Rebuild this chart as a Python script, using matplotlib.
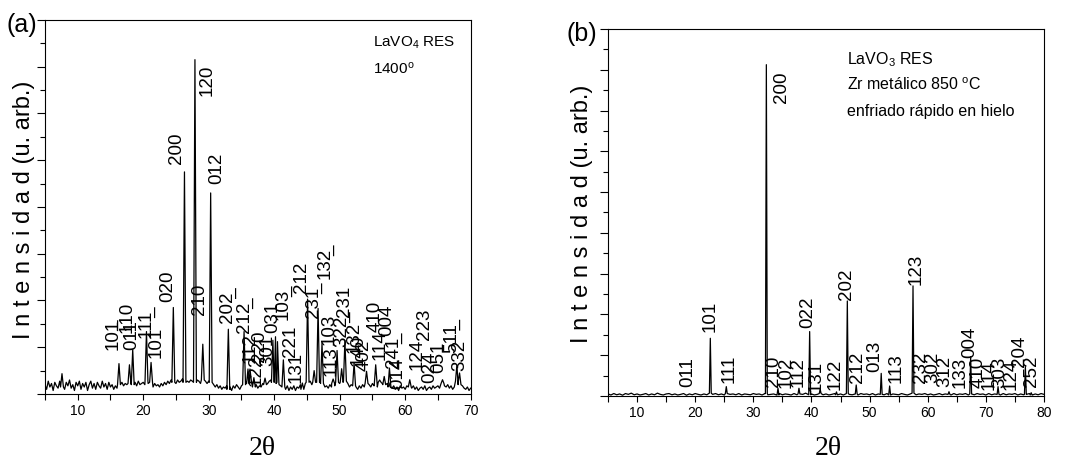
import numpy as np
import matplotlib.pyplot as plt
from matplotlib.ticker import MultipleLocator

plt.rcParams['font.family'] = ['Liberation Sans', 'DejaVu Sans']
plt.rcParams['mathtext.fontset'] = 'custom'
plt.rcParams['mathtext.rm'] = 'Liberation Sans'
plt.rcParams['mathtext.it'] = 'Liberation Sans:italic'

# ---- panel (a): LaVO4 RES 1400 ----
# baseline readings every 0.25 deg from 5 to 70 (u. arb.)
base_a = [
    0.40, 0.20, 0.55, 0.30, 0.45, 0.15, 0.50, 0.35, 0.25, 0.55,
    0.30, 0.45, 0.20, 0.50, 0.35, 0.60, 0.25, 0.40, 0.15, 0.50,
    0.35, 0.55, 0.20, 0.45, 0.30, 0.50, 0.15, 0.40, 0.55, 0.25,
    0.45, 0.20, 0.50, 0.35, 0.25, 0.55, 0.30, 0.45, 0.20, 0.50,
    0.30, 0.40, 0.20, 0.35, 0.25, 0.40, 0.30, 0.50, 0.35, 0.45,
    0.40, 0.55, 0.45, 0.60, 0.40, 0.50, 0.35, 0.55, 0.40, 0.45,
    0.50, 0.40, 0.55, 0.45, 0.35, 0.50, 0.30, 0.45, 0.35, 0.40,
    0.30, 0.45, 0.35, 0.50, 0.40, 0.55, 0.45, 0.60, 0.50, 0.55,
    0.45, 0.60, 0.50, 0.55, 0.65, 0.50, 0.60, 0.55, 0.50, 0.60,
    0.55, 0.65, 0.50, 0.60, 0.55, 0.45, 0.60, 0.50, 0.55, 0.45,
    0.55, 0.50, 0.45, 0.40, 0.30, 0.40, 0.25, 0.35, 0.20, 0.30,
    0.25, 0.35, 0.20, 0.30, 0.15, 0.35, 0.25, 0.40, 0.30, 0.20,
    0.35, 0.45, 0.40, 0.50, 0.45, 0.55, 0.40, 0.35, 0.30, 0.40,
    0.25, 0.35, 0.30, 0.45, 0.40, 0.50, 0.45, 0.55, 0.60, 0.50,
    0.55, 0.50, 0.45, 0.40, 0.35, 0.25, 0.30, 0.20, 0.35, 0.15,
    0.30, 0.20, 0.35, 0.15, 0.30, 0.25, 0.40, 0.20, 0.35, 0.45,
    0.50, 0.45, 0.55, 0.40, 0.50, 0.45, 0.60, 0.50, 0.55, 0.45,
    0.40, 0.30, 0.35, 0.25, 0.40, 0.30, 0.45, 0.35, 0.50, 0.40,
    0.45, 0.50, 0.40, 0.55, 0.35, 0.45, 0.30, 0.40, 0.25, 0.35,
    0.30, 0.20, 0.35, 0.25, 0.40, 0.30, 0.45, 0.35, 0.40, 0.30,
    0.45, 0.35, 0.40, 0.30, 0.50, 0.35, 0.45, 0.40, 0.35, 0.45,
    0.30, 0.40, 0.25, 0.35, 0.20, 0.30, 0.15, 0.35, 0.25, 0.30,
    0.20, 0.35, 0.15, 0.30, 0.25, 0.35, 0.20, 0.30, 0.15, 0.25,
    0.30, 0.20, 0.35, 0.15, 0.25, 0.30, 0.20, 0.35, 0.25, 0.30,
    0.35, 0.25, 0.40, 0.45, 0.35, 0.30, 0.40, 0.25, 0.35, 0.20,
    0.30, 0.45, 0.55, 0.40, 0.30, 0.35, 0.25, 0.20, 0.30, 0.15,
    0.25,
]
pos_a = [7.6, 16.3, 17.9, 18.4, 20.5, 21.2, 24.6, 26.3, 27.9, 29.1, 30.3,
         33.0, 35.4, 36.0, 36.3, 36.9, 38.6, 39.8, 40.2, 40.5, 41.4, 44.3,
         45.1, 46.1, 46.7, 47.3, 49.0, 49.6, 50.3, 50.8, 52.2, 54.1, 55.5,
         56.1, 56.8, 57.6, 60.7, 65.7, 67.9, 68.3]
hgt_a = [0.87, 1.30, 1.25, 1.90, 2.67, 1.35, 3.70, 9.50, 14.30, 2.13, 8.60,
         2.77, 2.67, 1.07, 1.07, 0.70, 0.68, 2.30, 2.45, 2.24, 1.46, 0.47,
         4.06, 1.00, 3.66, 2.17, 0.64, 1.86, 1.08, 2.29, 1.32, 0.97, 1.25,
         0.60, 0.75, 1.11, 0.61, 0.61, 1.25, 0.90]
# peak labels: text, x centre, bottom of text (u. arb.); "_" / "^" bar the next digit
lab_a = ['101', '^110', '011', '11_1', '101', '020', '200', '210', '120',
         '012', '20_2', '21_2', '112', '122', '220', '301', '031', '10_3',
         '221', '131', '212', '23_1', '13_2', '113', '103', '32_2', '231',
         '132', '140', '402', '410', '114', '004', '24_1', '014', '124',
         '223', '024', '051', '51_1', '332']
labx_a = [15.4, 17.6, 18.3, 20.5, 22.0, 23.8, 25.1, 28.6, 29.7, 31.2, 32.9,
          35.4, 36.3, 37.3, 37.7, 39.1, 39.8, 41.4, 42.5, 43.3, 44.2, 46.0,
          47.7, 48.7, 48.4, 50.3, 50.8, 52.2, 52.8, 53.8, 55.4, 56.1, 57.2,
          58.2, 58.9, 61.8, 63.0, 63.8, 65.2, 67.1, 68.4]
laby_a = [1.89, 2.60, 1.89, 2.39, 1.53, 3.95, 9.84, 3.38, 12.76, 8.99, 3.03,
          2.60, 1.32, 0.33, 1.39, 1.18, 2.60, 3.17, 1.60, 0.47, 4.30, 3.24,
          4.94, 0.75, 2.10, 2.03, 3.30, 1.75, 1.18, 0.97, 2.67, 1.46, 2.46,
          1.10, 0.20, 1.04, 2.30, 0.47, 0.90, 1.75, 0.97]

# ---- panel (b): LaVO3 RES Zr 850 C ----
# baseline readings every 0.5 deg from 5 to 80 (u. arb.)
base_b = [
    0.10, 0.05, 0.12, 0.06, 0.10, 0.04, 0.12, 0.08, 0.14, 0.06,
    0.10, 0.05, 0.08, 0.12, 0.05, 0.10, 0.06, 0.14, 0.08, 0.05,
    0.10, 0.12, 0.06, 0.10, 0.05, 0.08, 0.12, 0.04, 0.10, 0.06,
    0.12, 0.08, 0.05, 0.10, 0.06, 0.14, 0.08, 0.12, 0.06, 0.10,
    0.05, 0.12, 0.08, 0.10, 0.06, 0.12, 0.05, 0.10, 0.08, 0.06,
    0.12, 0.08, 0.10, 0.05, 0.12, 0.06, 0.08, 0.10, 0.05, 0.12,
    0.06, 0.10, 0.08, 0.05, 0.12, 0.06, 0.10, 0.08, 0.14, 0.06,
    0.10, 0.05, 0.08, 0.12, 0.06, 0.10, 0.05, 0.08, 0.12, 0.06,
    0.10, 0.05, 0.12, 0.08, 0.06, 0.10, 0.05, 0.12, 0.08, 0.10,
    0.06, 0.12, 0.05, 0.10, 0.08, 0.06, 0.12, 0.05, 0.10, 0.08,
    0.06, 0.12, 0.08, 0.05, 0.10, 0.14, 0.06, 0.10, 0.08, 0.12,
    0.06, 0.10, 0.05, 0.08, 0.12, 0.06, 0.10, 0.08, 0.05, 0.12,
    0.06, 0.10, 0.08, 0.12, 0.05, 0.10, 0.06, 0.12, 0.08, 0.10,
    0.05, 0.12, 0.06, 0.10, 0.08, 0.05, 0.12, 0.06, 0.10, 0.08,
    0.12, 0.05, 0.10, 0.06, 0.08, 0.12, 0.05, 0.10, 0.06, 0.12,
    0.08,
]
pos_b = [22.6, 25.35, 32.24, 34.24, 37.85, 39.69, 41.5, 44.3, 46.17, 47.7,
         52.0, 53.45, 57.47, 63.66, 67.39, 72.1, 76.8, 77.8]
hgt_b = [2.83, 0.46, 16.25, 0.38, 0.38, 3.16, 0.33, 0.20, 4.66, 0.54,
         1.11, 0.49, 5.40, 0.21, 1.93, 0.46, 1.44, 0.16]
lab_b = ['011', '101', '111', '210', '200', '102', '112', '022', '131', '122',
         '202', '212', '013', '113', '123', '232', '302', '312', '133', '004',
         '410', '114', '303', '124', '204', '252']
labx_b = [18.8, 22.5, 25.9, 33.4, 34.8, 35.7, 37.7, 39.4, 40.8, 44.0,
          46.1, 48.0, 50.9, 54.6, 58.0, 58.8, 60.9, 62.9, 65.5, 67.2,
          68.7, 70.5, 72.4, 74.4, 75.8, 77.8]
laby_b = [0.46, 3.16, 0.62, 0.46, 14.37, 0.38, 0.46, 3.32, 0.21, 0.30,
          4.71, 0.62, 1.20, 0.62, 5.45, 0.62, 0.62, 0.46, 0.38, 1.85,
          0.38, 0.30, 0.38, 0.30, 1.44, 0.46]


def bars(s):
    # "_" -> bar under next digit, "^" -> bar over next digit
    out = ''
    mark = ''
    for c in s:
        if c == '_':
            mark = '\u0332'
        elif c == '^':
            mark = '\u0305'
        else:
            out += c + mark
            mark = ''
    return out


def trace(x0, x1, base, pos, hgt, w):
    xb = np.linspace(x0, x1, len(base))
    yb = np.array(base)
    keep = np.ones(len(xb), bool)
    px, py = [], []
    for p, h in zip(pos, hgt):
        keep &= np.abs(xb - p) > w
        i = np.argmin(np.abs(xb - p))
        px += [p - w, p, p + w]
        py += [yb[i], h, yb[i]]
    x = np.concatenate([xb[keep], px])
    y = np.concatenate([yb[keep], py])
    o = np.argsort(x, kind='stable')
    return x[o], y[o]


fig = plt.figure(figsize=(10.68, 4.63), dpi=100)
ax_a = fig.add_axes([0.0421, 0.149, 0.3986, 0.808])
ax_b = fig.add_axes([0.5693, 0.1447, 0.4082, 0.7927])

xa, ya = trace(5, 70, base_a, pos_a, hgt_a, 0.22)
ax_a.plot(xa, ya, color='black', lw=0.9)
xb, yb = trace(5, 80, base_b, pos_b, hgt_b, 0.16)
ax_b.plot(xb, yb, color='black', lw=0.9)

for ax, labs, lx, ly in [(ax_a, lab_a, labx_a, laby_a), (ax_b, lab_b, labx_b, laby_b)]:
    for s, x, y in zip(labs, lx, ly):
        ax.text(x, y, bars(s), rotation=90, ha='center', va='bottom', fontsize=13.5)

ax_a.set_xlim(5, 70)
ax_a.set_ylim(0, 16)
ax_b.set_xlim(5, 80)
ax_b.set_ylim(0, 18)

for ax in (ax_a, ax_b):
    ax.xaxis.set_major_locator(MultipleLocator(10))
    ax.xaxis.set_minor_locator(MultipleLocator(5))
    ax.yaxis.set_major_locator(MultipleLocator(2))
    ax.yaxis.set_minor_locator(MultipleLocator(1))
    ax.tick_params(which='both', direction='out', top=False, right=False,
                   labelleft=False, labelsize=10, width=0.8, pad=3)
    ax.xaxis.set_tick_params(which='both', length=4)
    ax.yaxis.set_tick_params(which='major', length=6)
    ax.yaxis.set_tick_params(which='minor', length=3.5)
    for sp in ax.spines.values():
        sp.set_linewidth(0.8)

ax_a.text(0.77, 0.938, 'LaVO$_4$ RES', transform=ax_a.transAxes, fontsize=11, va='center')
ax_a.text(0.77, 0.869, '1400$^{\\rm o}$', transform=ax_a.transAxes, fontsize=11, va='center')
ax_b.text(0.548, 0.916, 'LaVO$_3$ RES', transform=ax_b.transAxes, fontsize=11.5, va='center')
ax_b.text(0.548, 0.847, 'Zr metálico 850 $^{\\rm o}$C', transform=ax_b.transAxes, fontsize=11.5, va='center')
ax_b.text(0.548, 0.774, 'enfriado rápido en hielo', transform=ax_b.transAxes, fontsize=11.5, va='center')

ylab = 'I n t e n s i d a d (u. arb.)'
fig.text(24 / 1068, 1 - 210 / 463, ylab, rotation=90, ha='center', va='center', fontsize=17)
fig.text(582 / 1068, 1 - 214 / 463, ylab, rotation=90, ha='center', va='center', fontsize=17)
fig.text(262 / 1068, 1 - 455 / 463, '2θ', ha='center', va='baseline', fontsize=20,
         family=['Liberation Serif', 'DejaVu Serif'])
fig.text(828 / 1068, 1 - 455 / 463, '2θ', ha='center', va='baseline', fontsize=20,
         family=['Liberation Serif', 'DejaVu Serif'])
fig.text(6 / 1068, 1 - 25 / 463, '(a)', ha='left', va='center', fontsize=18)
fig.text(566 / 1068, 1 - 34 / 463, '(b)', ha='left', va='center', fontsize=18)

fig.savefig('out.png', dpi=100)
